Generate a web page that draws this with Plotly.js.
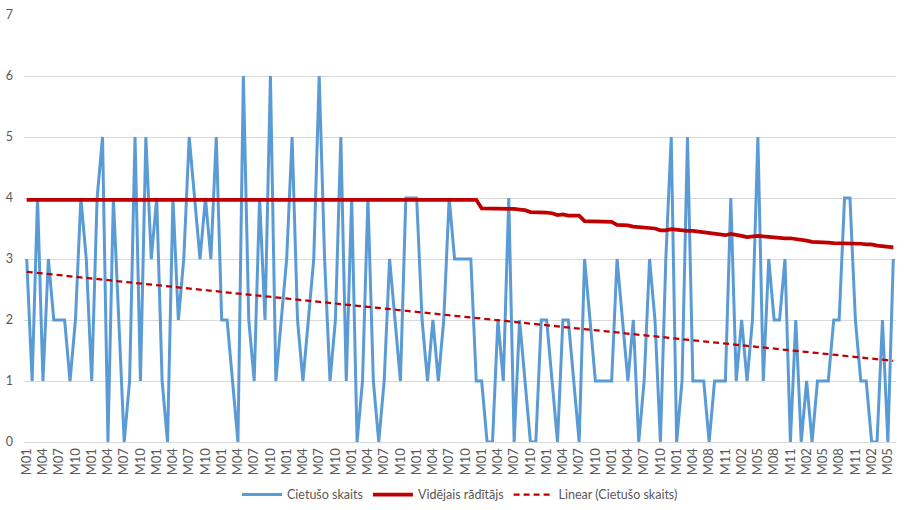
<!DOCTYPE html>
<html>
<head>
<meta charset="utf-8">
<script src="https://cdn.plot.ly/plotly-3.0.1.min.js"></script>
<style>
  html, body { margin: 0; padding: 0; background: #ffffff; }
  #chart { width: 911px; height: 510px; }
</style>
</head>
<body>
<div id="chart"></div>
<script>
// Month labels of every data point (one month is missing in year 11)
const monthLabels = [
  "M01","M02","M03","M04","M05","M06","M07","M08","M09","M10","M11","M12",
  "M01","M02","M03","M04","M05","M06","M07","M08","M09","M10","M11","M12",
  "M01","M02","M03","M04","M05","M06","M07","M08","M09","M10","M11","M12",
  "M01","M02","M03","M04","M05","M06","M07","M08","M09","M10","M11","M12",
  "M01","M02","M03","M04","M05","M06","M07","M08","M09","M10","M11","M12",
  "M01","M02","M03","M04","M05","M06","M07","M08","M09","M10","M11","M12",
  "M01","M02","M03","M04","M05","M06","M07","M08","M09","M10","M11","M12",
  "M01","M02","M03","M04","M05","M06","M07","M08","M09","M10","M11","M12",
  "M01","M02","M03","M04","M05","M06","M07","M08","M09","M10","M11","M12",
  "M01","M02","M03","M04","M05","M06","M07","M08","M09","M10","M11","M12",
  "M01","M02","M03","M04","M05","M06","M08","M09","M10","M11","M12",
  "M01","M02","M03","M04","M05","M06","M07","M08","M09","M10","M11","M12",
  "M01","M02","M03","M04","M05","M06","M07","M08","M09","M10","M11","M12",
  "M01","M02","M03","M04","M05","M06"
];

// Cietušo skaits (monthly count)
const cietusoSkaits = [
  3,1,4,1,3,2,2,2,1,2,4,3,1,4,5,0,4,2,0,1,5,1,5,3,4,1,0,
  4,2,3,5,4,3,4,3,5,2,2,1,0,6,2,1,4,2,6,1,2,3,5,2,1,2,3,
  6,3,1,2,5,1,4,0,1,4,1,0,1,3,2,1,4,4,4,2,1,2,1,2,4,3,3,
  3,3,1,1,0,0,2,1,4,0,2,1,0,0,2,2,1,0,2,2,1,0,3,2,1,1,1,
  1,3,2,1,2,0,1,3,2,0,3,5,0,1,5,1,1,1,0,1,1,1,4,1,2,1,
  2,5,1,3,2,2,3,0,2,0,1,0,1,1,1,2,2,4,4,2,1,1,0,0,2,0,3
];

// Vidējais rādītājs (average indicator)
const videjaisRaditajs = [
  3.97,3.97,3.97,3.97,3.97,3.97,3.97,3.97,3.97,3.97,3.97,3.97,
  3.97,3.97,3.97,3.97,3.97,3.97,3.97,3.97,3.97,3.97,3.97,3.97,
  3.97,3.97,3.97,3.97,3.97,3.97,3.97,3.97,3.97,3.97,3.97,3.97,
  3.97,3.97,3.97,3.97,3.97,3.97,3.97,3.97,3.97,3.97,3.97,3.97,
  3.97,3.97,3.97,3.97,3.97,3.97,3.97,3.97,3.97,3.97,3.97,3.97,
  3.97,3.97,3.97,3.97,3.97,3.97,3.97,3.97,3.97,3.97,3.97,3.97,
  3.97,3.97,3.97,3.97,3.97,3.97,3.97,3.97,3.97,3.97,3.97,3.97,
  3.83,3.83,3.83,3.83,3.83,3.83,3.82,3.81,3.80,3.77,3.77,3.77,
  3.76,3.75,3.72,3.73,3.71,3.71,3.71,3.62,3.62,3.62,3.62,3.62,
  3.61,3.56,3.56,3.55,3.53,3.52,3.51,3.50,3.50,3.47,3.47,3.49,
  3.48,3.46,3.46,3.46,3.45,3.44,3.42,3.41,3.40,3.39,3.41,3.40,
  3.38,3.36,
  3.37,3.38,3.37,3.36,3.36,3.34,3.34,3.34,3.33,3.32,3.30,3.28,
  3.28,3.28,3.27,3.26,3.26,3.26,3.26,3.25,3.25,3.24,3.24,3.22,
  3.21,3.20,3.19
];

// Linear trend of Cietušo skaits: value at first and last month
const trendValues = [2.79, 1.33];

const tickStep = 3;

// ---- build traces ----
const idx = monthLabels.map((_, i) => i);
const tickVals = idx.filter(i => i % tickStep === 0);
const tickText = tickVals.map(i => monthLabels[i]);
const trendX = [idx[0], idx[idx.length - 1]];

const FONT = "Lato, 'Open Sans', 'Liberation Sans', sans-serif";
const TXT = "#595959";

const traces = [
  {
    name: "Cietušo skaits",
    x: idx, y: cietusoSkaits,
    type: "scatter", mode: "lines",
    line: { color: "#5B9BD5", width: 3 },
    hoverinfo: "skip"
  },
  {
    name: "Vidējais rādītājs",
    x: idx, y: videjaisRaditajs,
    type: "scatter", mode: "lines",
    line: { color: "#C00000", width: 3.75 },
    hoverinfo: "skip"
  },
  {
    name: "Linear (Cietušo skaits)",
    x: trendX, y: trendValues,
    type: "scatter", mode: "lines",
    line: { color: "#C00000", width: 2.25, dash: "6px,4px" },
    hoverinfo: "skip"
  }
];

const layout = {
  width: 911, height: 510,
  margin: { l: 24, r: 15, t: 15, b: 68, pad: 0, autoexpand: false },
  paper_bgcolor: "#ffffff",
  plot_bgcolor: "#ffffff",
  font: { family: FONT, size: 12, color: TXT },
  showlegend: true,
  legend: {
    orientation: "h",
    x: 0.5, xanchor: "center",
    y: -0.124, yanchor: "middle",
    font: { family: FONT, size: 12.5, color: TXT },
    itemwidth: 40,
    bgcolor: "rgba(0,0,0,0)"
  },
  xaxis: {
    range: [-0.5, idx.length - 0.5],
    tickmode: "array",
    tickvals: tickVals,
    ticktext: tickText,
    tickangle: -90,
    tickfont: { family: FONT, size: 13, color: TXT },
    showgrid: false,
    zeroline: false,
    showline: true,
    linecolor: "#d9d9d9",
    linewidth: 1,
    ticks: "",
    automargin: false,
    fixedrange: true
  },
  yaxis: {
    range: [0, 7],
    tickmode: "linear",
    tick0: 0, dtick: 1,
    tickfont: { family: FONT, size: 12.5, color: TXT },
    showgrid: true,
    gridcolor: "#d9d9d9",
    gridwidth: 1,
    zeroline: false,
    showline: false,
    ticks: "",
    ticklabelstandoff: 10,
    automargin: false,
    fixedrange: true
  }
};

Plotly.newPlot("chart", traces, layout, { displayModeBar: false, staticPlot: true });
</script>
</body>
</html>
